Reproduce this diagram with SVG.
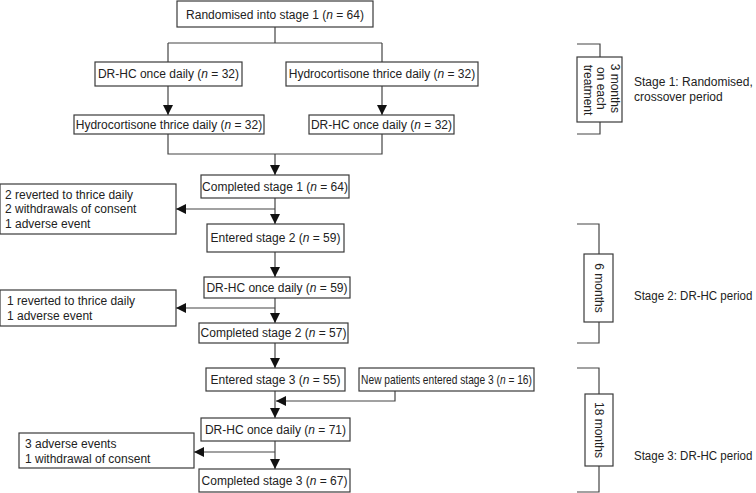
<svg xmlns="http://www.w3.org/2000/svg" width="756" height="493" viewBox="0 0 756 493">
<style>
  text { font-family: "Liberation Sans", Arial, sans-serif; font-size: 12px; fill: #222; }
  .c { text-anchor: middle; }
  .box { fill: #fff; stroke: #3a3a3a; stroke-width: 1.2; }
  .ln { fill: none; stroke: #444; stroke-width: 1.2; }
  .i { font-style: italic; }
</style>
<defs>
  <marker id="ah" markerUnits="userSpaceOnUse" markerWidth="10" markerHeight="10" refX="10" refY="5" orient="auto">
    <path d="M0,0 L10,5 L0,10 z" fill="#111"/>
  </marker>
</defs>
<rect width="756" height="493" fill="#fff"/>

<g id="connectors">
  <path class="ln" d="M275,27 V43 M168,43 H382 M168,43 V62 M382,43 V62"/>
  <line class="ln" x1="168" y1="86" x2="168" y2="115" marker-end="url(#ah)"/>
  <line class="ln" x1="382" y1="86" x2="382" y2="115" marker-end="url(#ah)"/>
  <path class="ln" d="M168,134 V154 H382 V134"/>
  <line class="ln" x1="275" y1="154" x2="275" y2="175" marker-end="url(#ah)"/>
  <line class="ln" x1="275" y1="198" x2="275" y2="224" marker-end="url(#ah)"/>
  <line class="ln" x1="275" y1="209" x2="176" y2="209" marker-end="url(#ah)"/>
  <line class="ln" x1="275" y1="252" x2="275" y2="277" marker-end="url(#ah)"/>
  <line class="ln" x1="275" y1="298" x2="275" y2="323" marker-end="url(#ah)"/>
  <line class="ln" x1="275" y1="308" x2="176" y2="308" marker-end="url(#ah)"/>
  <line class="ln" x1="275" y1="343" x2="275" y2="368" marker-end="url(#ah)"/>
  <line class="ln" x1="275" y1="391" x2="275" y2="418" marker-end="url(#ah)"/>
  <path class="ln" d="M395,391 V401 H276" marker-end="url(#ah)"/>
  <line class="ln" x1="275" y1="441" x2="275" y2="469" marker-end="url(#ah)"/>
  <line class="ln" x1="275" y1="452" x2="194" y2="452" marker-end="url(#ah)"/>
</g>

<g id="n-randomised">
  <rect class="box" x="177" y="1" width="196" height="26"/>
  <text class="c" x="275" y="18.5">Randomised into stage 1 (<tspan class="i">n</tspan> = 64)</text>
</g>
<g id="n-drhc-32a">
  <rect class="box" x="95" y="62" width="147" height="24"/>
  <text class="c" x="168.5" y="78.3">DR-HC once daily (<tspan class="i">n</tspan> = 32)</text>
</g>
<g id="n-hc-32a">
  <rect class="box" x="286" y="62" width="192" height="24"/>
  <text class="c" x="382" y="78.3">Hydrocortisone thrice daily (<tspan class="i">n</tspan> = 32)</text>
</g>
<g id="n-hc-32b">
  <rect class="box" x="74" y="115" width="190" height="19"/>
  <text class="c" x="169" y="128.8">Hydrocortisone thrice daily (<tspan class="i">n</tspan> = 32)</text>
</g>
<g id="n-drhc-32b">
  <rect class="box" x="309" y="115" width="145" height="19"/>
  <text class="c" x="381.5" y="128.8">DR-HC once daily (<tspan class="i">n</tspan> = 32)</text>
</g>
<g id="n-completed1">
  <rect class="box" x="201" y="175" width="148" height="23"/>
  <text class="c" x="275" y="190.8">Completed stage 1 (<tspan class="i">n</tspan> = 64)</text>
</g>
<g id="n-excl1">
  <rect class="box" x="0" y="184" width="176" height="50"/>
  <text x="5" y="198.5">2 reverted to thrice daily</text>
  <text x="5" y="213">2 withdrawals of consent</text>
  <text x="5" y="227.5">1 adverse event</text>
</g>
<g id="n-entered2">
  <rect class="box" x="207" y="224" width="137" height="28"/>
  <text class="c" x="275.5" y="242.3">Entered stage 2 (<tspan class="i">n</tspan> = 59)</text>
</g>
<g id="n-drhc-59">
  <rect class="box" x="204" y="277" width="146" height="21"/>
  <text class="c" x="277" y="291.8">DR-HC once daily (<tspan class="i">n</tspan> = 59)</text>
</g>
<g id="n-excl2">
  <rect class="box" x="0" y="290" width="176" height="36"/>
  <text x="7" y="305">1 reverted to thrice daily</text>
  <text x="7" y="319.5">1 adverse event</text>
</g>
<g id="n-completed2">
  <rect class="box" x="199" y="323" width="149" height="20"/>
  <text class="c" x="273.5" y="337.3">Completed stage 2 (<tspan class="i">n</tspan> = 57)</text>
</g>
<g id="n-entered3">
  <rect class="box" x="206" y="368" width="139" height="23"/>
  <text class="c" x="275.5" y="383.8">Entered stage 3 (<tspan class="i">n</tspan> = 55)</text>
</g>
<g id="n-new">
  <rect class="box" x="359" y="368" width="175" height="23"/>
  <text class="c" transform="translate(446.5,383.8) scale(0.85,1)">New patients entered stage 3 (<tspan class="i">n</tspan> = 16)</text>
</g>
<g id="n-drhc-71">
  <rect class="box" x="201" y="418" width="149" height="23"/>
  <text class="c" x="275.5" y="433.8">DR-HC once daily (<tspan class="i">n</tspan> = 71)</text>
</g>
<g id="n-excl3">
  <rect class="box" x="19" y="433" width="175" height="35"/>
  <text x="25" y="448">3 adverse events</text>
  <text x="25" y="462.5">1 withdrawal of consent</text>
</g>
<g id="n-completed3">
  <rect class="box" x="199" y="469" width="151" height="23"/>
  <text class="c" x="274.5" y="485">Completed stage 3 (<tspan class="i">n</tspan> = 67)</text>
</g>

<g id="stage1-bracket">
  <path class="ln" d="M577,44 H600 V57 M600,122 V134 H577"/>
  <rect class="box" x="577" y="57" width="45" height="65"/>
  <text class="c" transform="translate(599.5,90) rotate(90)">
    <tspan x="0" y="-11">3 months</tspan>
    <tspan x="0" y="2.5">on each</tspan>
    <tspan x="0" y="16">treatment</tspan>
  </text>
</g>
<g id="stage1-label">
  <text x="634" y="86">Stage 1: Randomised,</text>
  <text x="634" y="100.5">crossover period</text>
</g>
<g id="stage2-bracket">
  <path class="ln" d="M577,224 H599 V254 M599,322 V343 H577"/>
  <rect class="box" x="584" y="254" width="29" height="68"/>
  <text class="c" transform="translate(598.5,288) rotate(90)" y="4">6 months</text>
</g>
<g id="stage2-label">
  <text transform="translate(634,300) scale(0.96,1)">Stage 2: DR-HC period</text>
</g>
<g id="stage3-bracket">
  <path class="ln" d="M577,368 H599 V394 M599,466 V492 H577"/>
  <rect class="box" x="585" y="394" width="28" height="72"/>
  <text class="c" transform="translate(599,430) rotate(90)" y="4">18 months</text>
</g>
<g id="stage3-label">
  <text transform="translate(634,460) scale(0.96,1)">Stage 3: DR-HC period</text>
</g>
</svg>
